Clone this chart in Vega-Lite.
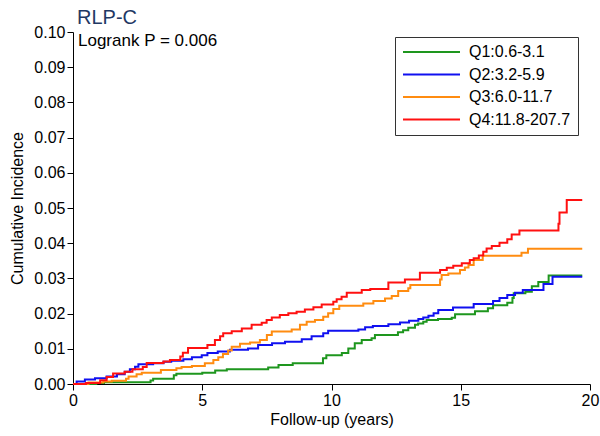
{
  "$schema": "https://vega.github.io/schema/vega-lite/v6.json",
  "width": 517,
  "height": 352,
  "autosize": {"type": "none"},
  "padding": {"left": 73, "top": 32, "right": 10, "bottom": 52},
  "background": "white",
  "config": {
    "view": {"stroke": null},
    "font": "Liberation Sans",
    "axis": {"grid": false, "domainColor": "black", "tickColor": "black", "labelColor": "black", "titleColor": "black", "labelFontSize": 16, "titleFontSize": 16, "titleFontWeight": "normal", "tickSize": 6, "labelFont": "Liberation Sans", "titleFont": "Liberation Sans", "labelOverlap": false}
  },
  "title": {"text": "RLP-C", "anchor": "start", "frame": "group", "fontSize": 20, "fontWeight": "normal", "color": "#1f3864", "font": "Liberation Sans", "offset": -4, "dx": 4},
  "datasets": {
    "km": [
      {"g": "Q1:0.6-3.1", "t": 0, "v": 0},
      {"g": "Q1:0.6-3.1", "t": 0.9, "v": 0.0003},
      {"g": "Q1:0.6-3.1", "t": 1.2, "v": 0.0005},
      {"g": "Q1:0.6-3.1", "t": 3.0, "v": 0.001},
      {"g": "Q1:0.6-3.1", "t": 3.1, "v": 0.0015},
      {"g": "Q1:0.6-3.1", "t": 3.9, "v": 0.0025},
      {"g": "Q1:0.6-3.1", "t": 4.0, "v": 0.0029},
      {"g": "Q1:0.6-3.1", "t": 5.0, "v": 0.0032},
      {"g": "Q1:0.6-3.1", "t": 5.5, "v": 0.0038},
      {"g": "Q1:0.6-3.1", "t": 5.95, "v": 0.0042},
      {"g": "Q1:0.6-3.1", "t": 7.55, "v": 0.0047},
      {"g": "Q1:0.6-3.1", "t": 7.95, "v": 0.0054},
      {"g": "Q1:0.6-3.1", "t": 8.5, "v": 0.0059},
      {"g": "Q1:0.6-3.1", "t": 9.67, "v": 0.0073},
      {"g": "Q1:0.6-3.1", "t": 9.8, "v": 0.0082},
      {"g": "Q1:0.6-3.1", "t": 10.4, "v": 0.0088},
      {"g": "Q1:0.6-3.1", "t": 10.65, "v": 0.0101},
      {"g": "Q1:0.6-3.1", "t": 10.9, "v": 0.0116},
      {"g": "Q1:0.6-3.1", "t": 11.17, "v": 0.0125},
      {"g": "Q1:0.6-3.1", "t": 11.55, "v": 0.013},
      {"g": "Q1:0.6-3.1", "t": 11.68, "v": 0.0139},
      {"g": "Q1:0.6-3.1", "t": 12.57, "v": 0.0147},
      {"g": "Q1:0.6-3.1", "t": 12.77, "v": 0.0153},
      {"g": "Q1:0.6-3.1", "t": 12.97, "v": 0.016},
      {"g": "Q1:0.6-3.1", "t": 13.23, "v": 0.0168},
      {"g": "Q1:0.6-3.1", "t": 13.35, "v": 0.0172},
      {"g": "Q1:0.6-3.1", "t": 13.55, "v": 0.0177},
      {"g": "Q1:0.6-3.1", "t": 13.68, "v": 0.0182},
      {"g": "Q1:0.6-3.1", "t": 14.12, "v": 0.0185},
      {"g": "Q1:0.6-3.1", "t": 14.65, "v": 0.0188},
      {"g": "Q1:0.6-3.1", "t": 14.78, "v": 0.0198},
      {"g": "Q1:0.6-3.1", "t": 15.55, "v": 0.0207},
      {"g": "Q1:0.6-3.1", "t": 16.05, "v": 0.0215},
      {"g": "Q1:0.6-3.1", "t": 16.25, "v": 0.0224},
      {"g": "Q1:0.6-3.1", "t": 16.8, "v": 0.0231},
      {"g": "Q1:0.6-3.1", "t": 17.0, "v": 0.0244},
      {"g": "Q1:0.6-3.1", "t": 17.05, "v": 0.0258},
      {"g": "Q1:0.6-3.1", "t": 17.5, "v": 0.0262},
      {"g": "Q1:0.6-3.1", "t": 17.75, "v": 0.0278},
      {"g": "Q1:0.6-3.1", "t": 18.0, "v": 0.029},
      {"g": "Q1:0.6-3.1", "t": 18.4, "v": 0.0308},
      {"g": "Q1:0.6-3.1", "t": 19.7, "v": 0.0308},
      {"g": "Q2:3.2-5.9", "t": 0, "v": 0},
      {"g": "Q2:3.2-5.9", "t": 0.14, "v": 0.0007},
      {"g": "Q2:3.2-5.9", "t": 0.46, "v": 0.0013},
      {"g": "Q2:3.2-5.9", "t": 0.85, "v": 0.0016},
      {"g": "Q2:3.2-5.9", "t": 1.3, "v": 0.0021},
      {"g": "Q2:3.2-5.9", "t": 1.7, "v": 0.0028},
      {"g": "Q2:3.2-5.9", "t": 2.0, "v": 0.0035},
      {"g": "Q2:3.2-5.9", "t": 2.2, "v": 0.0042},
      {"g": "Q2:3.2-5.9", "t": 2.4, "v": 0.0049},
      {"g": "Q2:3.2-5.9", "t": 2.53, "v": 0.0056},
      {"g": "Q2:3.2-5.9", "t": 3.1, "v": 0.0059},
      {"g": "Q2:3.2-5.9", "t": 3.5, "v": 0.0063},
      {"g": "Q2:3.2-5.9", "t": 3.8, "v": 0.0066},
      {"g": "Q2:3.2-5.9", "t": 4.27, "v": 0.007},
      {"g": "Q2:3.2-5.9", "t": 4.6, "v": 0.0076},
      {"g": "Q2:3.2-5.9", "t": 4.98, "v": 0.0082},
      {"g": "Q2:3.2-5.9", "t": 5.2, "v": 0.0088},
      {"g": "Q2:3.2-5.9", "t": 5.6, "v": 0.0092},
      {"g": "Q2:3.2-5.9", "t": 6.07, "v": 0.0097},
      {"g": "Q2:3.2-5.9", "t": 6.77, "v": 0.0101},
      {"g": "Q2:3.2-5.9", "t": 7.16, "v": 0.0111},
      {"g": "Q2:3.2-5.9", "t": 7.7, "v": 0.0116},
      {"g": "Q2:3.2-5.9", "t": 8.2, "v": 0.012},
      {"g": "Q2:3.2-5.9", "t": 8.85, "v": 0.0127},
      {"g": "Q2:3.2-5.9", "t": 9.23, "v": 0.0136},
      {"g": "Q2:3.2-5.9", "t": 9.68, "v": 0.0144},
      {"g": "Q2:3.2-5.9", "t": 9.87, "v": 0.0151},
      {"g": "Q2:3.2-5.9", "t": 11.04, "v": 0.0155},
      {"g": "Q2:3.2-5.9", "t": 11.3, "v": 0.0161},
      {"g": "Q2:3.2-5.9", "t": 11.6, "v": 0.0165},
      {"g": "Q2:3.2-5.9", "t": 12.2, "v": 0.017},
      {"g": "Q2:3.2-5.9", "t": 12.65, "v": 0.0175},
      {"g": "Q2:3.2-5.9", "t": 13.0, "v": 0.018},
      {"g": "Q2:3.2-5.9", "t": 13.36, "v": 0.0185},
      {"g": "Q2:3.2-5.9", "t": 13.55, "v": 0.0189},
      {"g": "Q2:3.2-5.9", "t": 13.75, "v": 0.0194},
      {"g": "Q2:3.2-5.9", "t": 13.95, "v": 0.0201},
      {"g": "Q2:3.2-5.9", "t": 14.13, "v": 0.021},
      {"g": "Q2:3.2-5.9", "t": 14.7, "v": 0.0217},
      {"g": "Q2:3.2-5.9", "t": 15.5, "v": 0.0227},
      {"g": "Q2:3.2-5.9", "t": 16.25, "v": 0.0236},
      {"g": "Q2:3.2-5.9", "t": 16.5, "v": 0.0244},
      {"g": "Q2:3.2-5.9", "t": 16.8, "v": 0.0253},
      {"g": "Q2:3.2-5.9", "t": 17.1, "v": 0.0259},
      {"g": "Q2:3.2-5.9", "t": 17.4, "v": 0.0267},
      {"g": "Q2:3.2-5.9", "t": 18.2, "v": 0.0284},
      {"g": "Q2:3.2-5.9", "t": 18.55, "v": 0.0305},
      {"g": "Q2:3.2-5.9", "t": 19.7, "v": 0.0305},
      {"g": "Q3:6.0-11.7", "t": 0, "v": 0},
      {"g": "Q3:6.0-11.7", "t": 0.6, "v": 0.0004},
      {"g": "Q3:6.0-11.7", "t": 1.17, "v": 0.0007},
      {"g": "Q3:6.0-11.7", "t": 1.5, "v": 0.0009},
      {"g": "Q3:6.0-11.7", "t": 2.05, "v": 0.0015},
      {"g": "Q3:6.0-11.7", "t": 2.15, "v": 0.0021},
      {"g": "Q3:6.0-11.7", "t": 2.46, "v": 0.0028},
      {"g": "Q3:6.0-11.7", "t": 2.66, "v": 0.0032},
      {"g": "Q3:6.0-11.7", "t": 3.4, "v": 0.004},
      {"g": "Q3:6.0-11.7", "t": 4.0, "v": 0.0045},
      {"g": "Q3:6.0-11.7", "t": 4.2, "v": 0.0048},
      {"g": "Q3:6.0-11.7", "t": 4.6, "v": 0.0051},
      {"g": "Q3:6.0-11.7", "t": 5.1, "v": 0.0059},
      {"g": "Q3:6.0-11.7", "t": 5.43, "v": 0.0068},
      {"g": "Q3:6.0-11.7", "t": 5.62, "v": 0.0076},
      {"g": "Q3:6.0-11.7", "t": 5.8, "v": 0.0085},
      {"g": "Q3:6.0-11.7", "t": 6.0, "v": 0.0095},
      {"g": "Q3:6.0-11.7", "t": 6.14, "v": 0.0106},
      {"g": "Q3:6.0-11.7", "t": 6.46, "v": 0.0114},
      {"g": "Q3:6.0-11.7", "t": 6.85, "v": 0.0118},
      {"g": "Q3:6.0-11.7", "t": 7.23, "v": 0.0125},
      {"g": "Q3:6.0-11.7", "t": 7.5, "v": 0.0139},
      {"g": "Q3:6.0-11.7", "t": 7.69, "v": 0.0149},
      {"g": "Q3:6.0-11.7", "t": 8.46, "v": 0.0155},
      {"g": "Q3:6.0-11.7", "t": 8.78, "v": 0.0168},
      {"g": "Q3:6.0-11.7", "t": 9.04, "v": 0.0177},
      {"g": "Q3:6.0-11.7", "t": 9.36, "v": 0.0182},
      {"g": "Q3:6.0-11.7", "t": 9.68, "v": 0.0191},
      {"g": "Q3:6.0-11.7", "t": 9.87, "v": 0.0201},
      {"g": "Q3:6.0-11.7", "t": 10.07, "v": 0.0213},
      {"g": "Q3:6.0-11.7", "t": 10.3, "v": 0.0222},
      {"g": "Q3:6.0-11.7", "t": 11.23, "v": 0.0229},
      {"g": "Q3:6.0-11.7", "t": 11.62, "v": 0.0236},
      {"g": "Q3:6.0-11.7", "t": 12.07, "v": 0.0243},
      {"g": "Q3:6.0-11.7", "t": 12.33, "v": 0.025},
      {"g": "Q3:6.0-11.7", "t": 12.58, "v": 0.0264},
      {"g": "Q3:6.0-11.7", "t": 12.97, "v": 0.0272},
      {"g": "Q3:6.0-11.7", "t": 13.05, "v": 0.0281},
      {"g": "Q3:6.0-11.7", "t": 14.2, "v": 0.0297},
      {"g": "Q3:6.0-11.7", "t": 14.26, "v": 0.031},
      {"g": "Q3:6.0-11.7", "t": 14.52, "v": 0.0314},
      {"g": "Q3:6.0-11.7", "t": 14.97, "v": 0.0324},
      {"g": "Q3:6.0-11.7", "t": 15.16, "v": 0.0331},
      {"g": "Q3:6.0-11.7", "t": 15.3, "v": 0.0338},
      {"g": "Q3:6.0-11.7", "t": 15.5, "v": 0.0352},
      {"g": "Q3:6.0-11.7", "t": 15.85, "v": 0.0364},
      {"g": "Q3:6.0-11.7", "t": 17.35, "v": 0.0373},
      {"g": "Q3:6.0-11.7", "t": 17.6, "v": 0.0384},
      {"g": "Q3:6.0-11.7", "t": 19.7, "v": 0.0384},
      {"g": "Q4:11.8-207.7", "t": 0, "v": 0},
      {"g": "Q4:11.8-207.7", "t": 0.5, "v": 0.0003},
      {"g": "Q4:11.8-207.7", "t": 1.05, "v": 0.0011},
      {"g": "Q4:11.8-207.7", "t": 1.3, "v": 0.002},
      {"g": "Q4:11.8-207.7", "t": 1.55, "v": 0.003},
      {"g": "Q4:11.8-207.7", "t": 2.0, "v": 0.0035},
      {"g": "Q4:11.8-207.7", "t": 2.3, "v": 0.0042},
      {"g": "Q4:11.8-207.7", "t": 2.7, "v": 0.0048},
      {"g": "Q4:11.8-207.7", "t": 2.85, "v": 0.006},
      {"g": "Q4:11.8-207.7", "t": 3.5, "v": 0.0064},
      {"g": "Q4:11.8-207.7", "t": 3.75, "v": 0.0068},
      {"g": "Q4:11.8-207.7", "t": 4.15, "v": 0.0078},
      {"g": "Q4:11.8-207.7", "t": 4.25, "v": 0.0089},
      {"g": "Q4:11.8-207.7", "t": 4.45, "v": 0.0102},
      {"g": "Q4:11.8-207.7", "t": 5.2, "v": 0.0111},
      {"g": "Q4:11.8-207.7", "t": 5.49, "v": 0.0125},
      {"g": "Q4:11.8-207.7", "t": 5.69, "v": 0.0136},
      {"g": "Q4:11.8-207.7", "t": 5.81, "v": 0.0144},
      {"g": "Q4:11.8-207.7", "t": 6.14, "v": 0.015},
      {"g": "Q4:11.8-207.7", "t": 6.53, "v": 0.0158},
      {"g": "Q4:11.8-207.7", "t": 6.91, "v": 0.0168},
      {"g": "Q4:11.8-207.7", "t": 7.3, "v": 0.0174},
      {"g": "Q4:11.8-207.7", "t": 7.49, "v": 0.0182},
      {"g": "Q4:11.8-207.7", "t": 7.69, "v": 0.0189},
      {"g": "Q4:11.8-207.7", "t": 8.0, "v": 0.0196},
      {"g": "Q4:11.8-207.7", "t": 8.33, "v": 0.0201},
      {"g": "Q4:11.8-207.7", "t": 8.65, "v": 0.0205},
      {"g": "Q4:11.8-207.7", "t": 8.97, "v": 0.0212},
      {"g": "Q4:11.8-207.7", "t": 9.3, "v": 0.0218},
      {"g": "Q4:11.8-207.7", "t": 9.62, "v": 0.0226},
      {"g": "Q4:11.8-207.7", "t": 10.07, "v": 0.0234},
      {"g": "Q4:11.8-207.7", "t": 10.2, "v": 0.0241},
      {"g": "Q4:11.8-207.7", "t": 10.39, "v": 0.0248},
      {"g": "Q4:11.8-207.7", "t": 10.59, "v": 0.0259},
      {"g": "Q4:11.8-207.7", "t": 11.17, "v": 0.0267},
      {"g": "Q4:11.8-207.7", "t": 11.5, "v": 0.027},
      {"g": "Q4:11.8-207.7", "t": 12.2, "v": 0.0288},
      {"g": "Q4:11.8-207.7", "t": 12.84, "v": 0.0297},
      {"g": "Q4:11.8-207.7", "t": 13.42, "v": 0.0316},
      {"g": "Q4:11.8-207.7", "t": 14.2, "v": 0.0324},
      {"g": "Q4:11.8-207.7", "t": 14.46, "v": 0.033},
      {"g": "Q4:11.8-207.7", "t": 14.71, "v": 0.0336},
      {"g": "Q4:11.8-207.7", "t": 15.04, "v": 0.0343},
      {"g": "Q4:11.8-207.7", "t": 15.35, "v": 0.0352},
      {"g": "Q4:11.8-207.7", "t": 15.5, "v": 0.0357},
      {"g": "Q4:11.8-207.7", "t": 15.7, "v": 0.0365},
      {"g": "Q4:11.8-207.7", "t": 15.87, "v": 0.0376},
      {"g": "Q4:11.8-207.7", "t": 16.0, "v": 0.0385},
      {"g": "Q4:11.8-207.7", "t": 16.2, "v": 0.0392},
      {"g": "Q4:11.8-207.7", "t": 16.5, "v": 0.0401},
      {"g": "Q4:11.8-207.7", "t": 16.8, "v": 0.0411},
      {"g": "Q4:11.8-207.7", "t": 16.97, "v": 0.0425},
      {"g": "Q4:11.8-207.7", "t": 17.27, "v": 0.0436},
      {"g": "Q4:11.8-207.7", "t": 18.78, "v": 0.0455},
      {"g": "Q4:11.8-207.7", "t": 18.82, "v": 0.0487},
      {"g": "Q4:11.8-207.7", "t": 19.1, "v": 0.0523},
      {"g": "Q4:11.8-207.7", "t": 19.7, "v": 0.0523}
    ],
    "note": [{"label": "Logrank P = 0.006"}]
  },
  "layer": [
    {
      "data": {"name": "km"},
      "mark": {"type": "line", "interpolate": "step-after", "strokeWidth": 2},
      "encoding": {
        "x": {"field": "t", "type": "quantitative", "scale": {"domain": [0, 20], "nice": false, "zero": false},
          "axis": {"title": "Follow-up (years)", "values": [0, 5, 10, 15, 20], "tickCount": 10, "format": "d", "labelFlush": false, "labelOverlap": false, "labelPadding": 2, "titlePadding": 3}},
        "y": {"field": "v", "type": "quantitative", "scale": {"domain": [0, 0.1], "nice": false},
          "axis": {"title": "Cumulative Incidence", "values": [0, 0.01, 0.02, 0.03, 0.04, 0.05, 0.06, 0.07, 0.08, 0.09, 0.1], "tickCount": 20, "format": ".2f", "labelPadding": 2, "titlePadding": 8, "labelFlush": false, "labelOverlap": false}},
        "color": {"field": "g", "type": "nominal", "sort": null,
          "scale": {"domain": ["Q1:0.6-3.1", "Q2:3.2-5.9", "Q3:6.0-11.7", "Q4:11.8-207.7"], "range": ["#1e961e", "#1010f0", "#ff8c10", "#ff1010"]},
          "legend": {"title": null, "orient": "none", "legendX": 322, "legendY": 5, "padding": 7, "strokeColor": "#333333", "fillColor": "white",
            "symbolType": "stroke", "symbolSize": 3249, "symbolStrokeWidth": 2, "clipHeight": 16, "rowPadding": 6.5,
            "labelFontSize": 16, "labelOffset": 8, "labelColor": "black", "labelFont": "Liberation Sans"}}
      }
    },
    {
      "data": {"name": "note"},
      "mark": {"type": "text", "align": "left", "baseline": "middle", "fontSize": 17, "font": "Liberation Sans", "color": "black", "dx": 5, "dy": 9},
      "encoding": {
        "text": {"field": "label"},
        "x": {"datum": 0, "type": "quantitative"},
        "y": {"datum": 0.1, "type": "quantitative"}
      }
    }
  ]
}
